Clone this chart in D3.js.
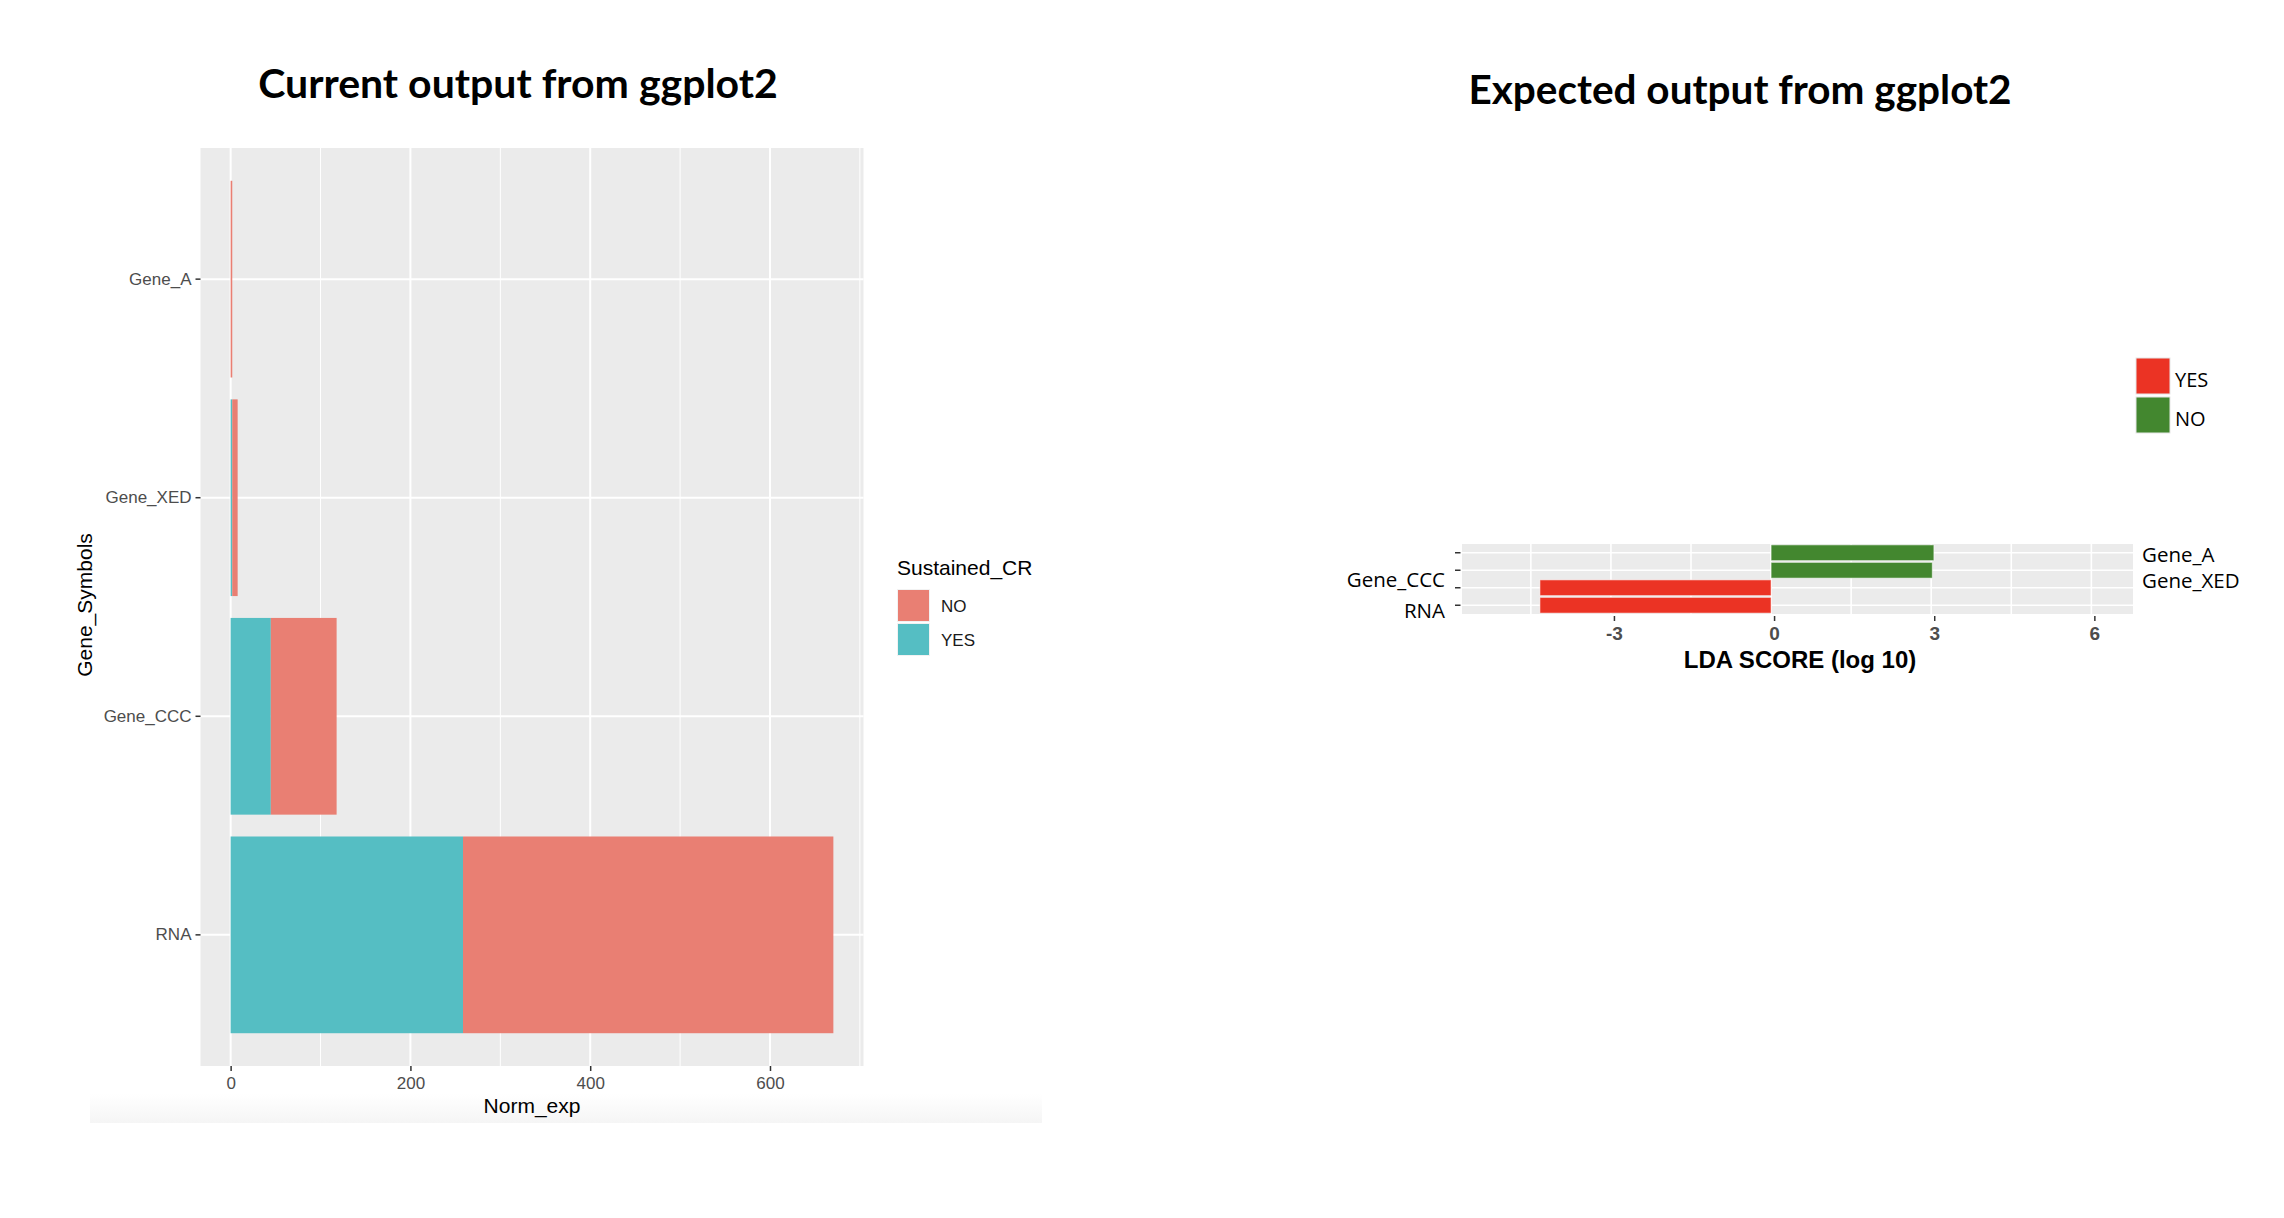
<!DOCTYPE html>
<html lang="en">
  <head>
    <meta charset="utf-8">
    <title>ggplot2 current vs expected</title>
    <script src="https://d3js.org/d3.v7.min.js"></script>
    <style>
      body { margin: 0; background: #fff; }
    </style>
  </head>

  <body>

  <script>

// data

  var genes = ["Gene_A", "Gene_XED", "Gene_CCC", "RNA"];
  var normYes = [0, 1.8, 44.7, 258.5];
  var normNo = [1.8, 6.0, 73.2, 412];
  var normTicks = [0, 200, 400, 600];
  var crGroups = ["NO", "YES"];

  var ldaScore = [3.05, 3.02, -4.33, -4.33];
  var ldaGroup = ["NO", "NO", "YES", "YES"];
  var ldaTicks = [-3, 0, 3, 6];
  var ldaLegend = ["YES", "NO"];

  var w = 2284;
  var h = 1218;

  var svg = d3.select("body")
    .append("svg")
      .attr("width", w)
      .attr("height", h);

  svg.append("rect")
      .attr("width", w)
      .attr("height", h)
      .attr("fill", "white");

  // faint shadow below the left screenshot
  var defs = svg.append("defs");
  var grad = defs.append("linearGradient")
      .attr("id", "fade")
      .attr("x1", 0).attr("y1", 0).attr("x2", 0).attr("y2", 1);
  grad.append("stop").attr("offset", "0%").attr("stop-color", "#ffffff");
  grad.append("stop").attr("offset", "100%").attr("stop-color", "#f5f5f5");

  svg.append("rect")
      .attr("x", 90)
      .attr("y", 1094)
      .attr("width", 952)
      .attr("height", 29)
      .attr("fill", "url(#fade)");

  // titles
  var titleFont = "Lato, 'Open Sans', sans-serif";
  svg.append("text")
      .attr("x", 518)
      .attr("y", 98)
      .attr("text-anchor", "middle")
      .attr("font-family", titleFont)
      .attr("font-weight", "bold")
      .attr("font-size", 41)
      .text("Current output from ggplot2");

  svg.append("text")
      .attr("x", 1740)
      .attr("y", 104)
      .attr("text-anchor", "middle")
      .attr("font-family", titleFont)
      .attr("font-weight", "bold")
      .attr("font-size", 40.5)
      .text("Expected output from ggplot2");

// ---------- left chart: stacked bars ----------

  var pL = {left: 200.5, right: 863.5, top: 148, bottom: 1066};
  var ggFont = "'Liberation Sans', Arial, sans-serif";
  var fillCR = d3.scaleOrdinal().domain(crGroups).range(["#E97F73", "#55BEC3"]);

  var totals = genes.map((g, i) => normYes[i] + normNo[i]);
  var maxT = d3.max(totals);

  var xL = d3.scaleLinear()
      .domain([-0.05 * maxT, 1.05 * maxT])
      .range([pL.left, pL.right]);

  var yL = d3.scaleBand()
      .domain(genes)
      .range([pL.top, pL.bottom])
      .paddingInner(0.1)
      .paddingOuter(0.15);

  svg.append("rect")
      .attr("x", pL.left)
      .attr("y", pL.top)
      .attr("width", pL.right - pL.left)
      .attr("height", pL.bottom - pL.top)
      .attr("fill", "#EBEBEB");

  var gridL = svg.append("g").attr("stroke", "white");
  gridL.selectAll(".minor")
      .data(d3.range(100, xL.domain()[1], 200))
    .enter().append("line")
      .attr("x1", d => xL(d)).attr("x2", d => xL(d))
      .attr("y1", pL.top).attr("y2", pL.bottom)
      .attr("stroke-width", 1);
  gridL.selectAll(".major")
      .data(normTicks)
    .enter().append("line")
      .attr("x1", d => xL(d)).attr("x2", d => xL(d))
      .attr("y1", pL.top).attr("y2", pL.bottom)
      .attr("stroke-width", 2);
  gridL.selectAll(".hmajor")
      .data(genes)
    .enter().append("line")
      .attr("x1", pL.left).attr("x2", pL.right)
      .attr("y1", d => yL(d) + yL.bandwidth() / 2)
      .attr("y2", d => yL(d) + yL.bandwidth() / 2)
      .attr("stroke-width", 2);

  var stackRows = genes.map((g, i) => ({gene: g, YES: normYes[i], NO: normNo[i]}));
  var stacked = d3.stack().keys(["YES", "NO"])(stackRows);

  svg.append("g")
    .selectAll("g")
      .data(stacked)
    .enter().append("g")
      .attr("fill", d => fillCR(d.key))
    .selectAll("rect")
      .data(d => d)
    .enter().append("rect")
      .attr("x", d => xL(d[0]))
      .attr("y", d => yL(d.data.gene))
      .attr("width", d => xL(d[1]) - xL(d[0]))
      .attr("height", yL.bandwidth());

  var axL = svg.append("g")
      .attr("transform", `translate(${pL.left}, 0)`)
      .call(d3.axisLeft(yL).tickSize(5).tickPadding(4));
  var axB = svg.append("g")
      .attr("transform", `translate(0, ${pL.bottom})`)
      .call(d3.axisBottom(xL).tickValues(normTicks).tickSize(5).tickPadding(5.5));

  [axL, axB].forEach(function(ax) {
    ax.select(".domain").remove();
    ax.selectAll("line").attr("stroke", "#333").attr("stroke-width", 1.5);
    ax.selectAll("text")
        .attr("font-family", ggFont)
        .attr("font-size", 17)
        .attr("fill", "#4D4D4D");
  });

  svg.append("text")
      .attr("x", (pL.left + pL.right) / 2)
      .attr("y", 1113)
      .attr("text-anchor", "middle")
      .attr("font-family", ggFont)
      .attr("font-size", 21)
      .text("Norm_exp");

  svg.append("text")
      .attr("transform", "translate(92, 605) rotate(-90)")
      .attr("text-anchor", "middle")
      .attr("font-family", ggFont)
      .attr("font-size", 21)
      .text("Gene_Symbols");

  // legend
  svg.append("text")
      .attr("x", 897)
      .attr("y", 575)
      .attr("font-family", ggFont)
      .attr("font-size", 21)
      .text("Sustained_CR");

  var legL = svg.append("g")
    .selectAll("g")
      .data(crGroups)
    .enter().append("g")
      .attr("transform", (d, i) => `translate(897, ${589 + i * 34})`);
  legL.append("rect")
      .attr("width", 33).attr("height", 33)
      .attr("fill", "#F2F2F2");
  legL.append("rect")
      .attr("x", 1).attr("y", 1)
      .attr("width", 31).attr("height", 31)
      .attr("fill", d => fillCR(d));
  legL.append("text")
      .attr("x", 44)
      .attr("y", 17)
      .attr("dy", "0.35em")
      .attr("font-family", ggFont)
      .attr("font-size", 17)
      .attr("fill", "#1a1a1a")
      .text(d => d);

// ---------- right chart: diverging LDA bars ----------

  var pR = {left: 1462, right: 2133, top: 544, bottom: 614};
  var labFont = "'Open Sans', sans-serif";
  var fillLDA = d3.scaleOrdinal().domain(["YES", "NO"]).range(["#EB3324", "#43872F"]);

  var xR = d3.scaleLinear()
      .domain([-5.79, 6.78])
      .range([pR.left, pR.right]);

  var yR = d3.scaleBand()
      .domain(genes)
      .range([pR.top, pR.bottom])
      .paddingInner(0.1)
      .paddingOuter(0.05);

  svg.append("rect")
      .attr("x", pR.left)
      .attr("y", pR.top)
      .attr("width", pR.right - pR.left)
      .attr("height", pR.bottom - pR.top)
      .attr("fill", "#EBEBEB");

  var gridR = svg.append("g").attr("stroke", "white").attr("stroke-width", 1.6);
  gridR.selectAll(".v")
      .data(d3.range(-4.5, 6.01, 1.5))
    .enter().append("line")
      .attr("x1", d => xR(d)).attr("x2", d => xR(d))
      .attr("y1", pR.top).attr("y2", pR.bottom);
  gridR.selectAll(".h")
      .data(genes)
    .enter().append("line")
      .attr("x1", pR.left).attr("x2", pR.right)
      .attr("y1", d => yR(d) + yR.bandwidth() / 2)
      .attr("y2", d => yR(d) + yR.bandwidth() / 2);

  svg.append("g")
    .selectAll("rect")
      .data(genes)
    .enter().append("rect")
      .attr("x", (d, i) => xR(Math.min(0, ldaScore[i])))
      .attr("y", d => yR(d))
      .attr("width", (d, i) => Math.abs(xR(ldaScore[i]) - xR(0)))
      .attr("height", yR.bandwidth())
      .attr("fill", (d, i) => fillLDA(ldaGroup[i]))
      .attr("stroke", "rgba(255,255,255,0.55)")
      .attr("stroke-width", 1);

  // little ticks on the left edge
  svg.append("g")
    .selectAll("line")
      .data(genes)
    .enter().append("line")
      .attr("x1", pR.left - 7).attr("x2", pR.left - 1.5)
      .attr("y1", d => yR(d) + yR.bandwidth() / 2)
      .attr("y2", d => yR(d) + yR.bandwidth() / 2)
      .attr("stroke", "#333")
      .attr("stroke-width", 1.5);

  // gene names: negatives on the left, positives on the right
  var nudge = {Gene_A: 2, Gene_XED: 10, Gene_CCC: -8, RNA: 5};
  svg.append("g")
    .selectAll("text")
      .data(genes)
    .enter().append("text")
      .attr("x", (d, i) => ldaScore[i] < 0 ? 1445 : 2142)
      .attr("y", d => yR(d) + yR.bandwidth() / 2 + nudge[d])
      .attr("dy", "0.36em")
      .attr("text-anchor", (d, i) => ldaScore[i] < 0 ? "end" : "start")
      .attr("font-family", labFont)
      .attr("font-size", 20.5)
      .text(d => d);

  var axR = svg.append("g")
      .attr("transform", `translate(3, ${pR.bottom + 2})`)
      .call(d3.axisBottom(xR).tickValues(ldaTicks).tickFormat(d => String(d))
        .tickSize(5).tickPadding(6));
  axR.select(".domain").remove();
  axR.selectAll("line").attr("stroke", "#333").attr("stroke-width", 1.5);
  axR.selectAll("text")
      .attr("font-family", ggFont)
      .attr("font-weight", "bold")
      .attr("font-size", 19)
      .attr("fill", "#4D4D4D");

  svg.append("text")
      .attr("x", 1800)
      .attr("y", 668)
      .attr("text-anchor", "middle")
      .attr("font-family", ggFont)
      .attr("font-weight", "bold")
      .attr("font-size", 24)
      .text("LDA SCORE (log 10)");

  var legR = svg.append("g")
    .selectAll("g")
      .data(ldaLegend)
    .enter().append("g")
      .attr("transform", (d, i) => `translate(2136, ${358 + i * 39})`);
  legR.append("rect")
      .attr("width", 34).attr("height", 36)
      .attr("fill", d => fillLDA(d))
      .attr("stroke", "#e6e6e6")
      .attr("stroke-width", 1);
  legR.append("text")
      .attr("x", 39)
      .attr("y", 22)
      .attr("dy", "0.36em")
      .attr("font-family", labFont)
      .attr("font-size", 20)
      .text(d => d);

    </script>

  </body>

</html>
